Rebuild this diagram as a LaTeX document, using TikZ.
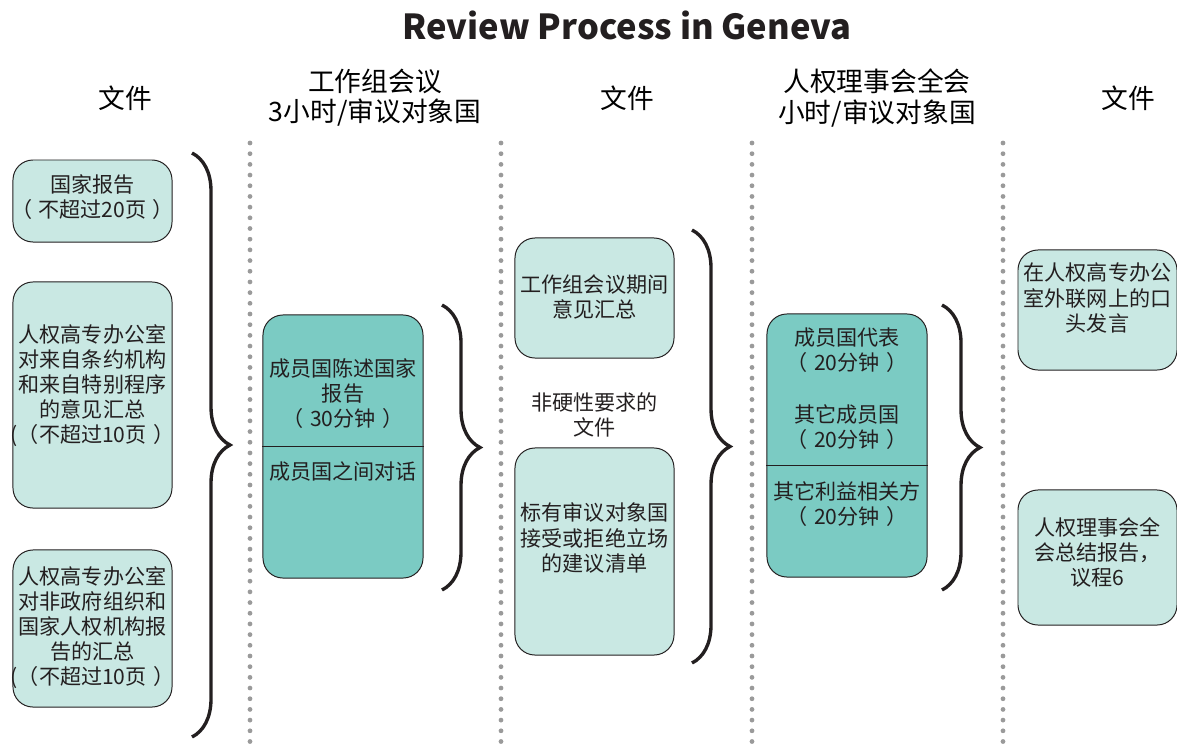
\documentclass[tikz,border=0pt]{standalone}
\usepackage{fontspec}
\setmainfont{Noto Sans CJK SC}
\usetikzlibrary{decorations.pathreplacing}
\definecolor{paleteal}{HTML}{C9E8E3}
\definecolor{deepteal}{HTML}{7BCBC3}
\definecolor{inkgray}{HTML}{231F20}
\definecolor{dotgray}{HTML}{9A9A9A}

\begin{document}
\begin{tikzpicture}[x=0.025cm, y=-0.025cm,
  doc/.style={draw=inkgray, line width=0.7pt, rounded corners=0.5cm,
              fill=paleteal, minimum width=3.975cm},
  talk/.style={doc, fill=deepteal, minimum width=4cm},
  txt/.style={font=\fontsize{15}{17.8}\selectfont, text=inkgray,
              align=center, inner sep=0pt},
  head/.style={font=\fontsize{19}{21.5}\selectfont, text=black, align=center},
  sep/.style={dotgray, line width=3.4pt, line cap=round,
              dash pattern=on 0pt off 7.6pt},
  curly/.style={decorate, decoration={brace, amplitude=0.95cm},
                line width=2.4pt, inkgray},
  ]
  \useasboundingbox (0,0) rectangle (1177,751);

  % title and column heads
  \node[font=\fontsize{24.5}{28}\selectfont\bfseries, text=inkgray] (title) at (627,25) {Review Process in Geneva};
  \node[head] (head1) at (125,98) {文件};
  \node[head] (head2) at (375,98) {工作组会议\\3小时/审议对象国};
  \node[head] (head3) at (627,98) {文件};
  \node[head] (head4) at (877,98) {人权理事会全会\\小时/审议对象国};
  \node[head] (head5) at (1128,98) {文件};

  % column separators
  \foreach \x in {250,501,752,1003}
    \draw[sep] (\x,143) -- (\x,751);

  % documents before the working group
  \node[doc, minimum height=2.05cm] (report) at (92.5,201) {};
  \node[txt] (report-txt) at (92.5,197) {国家报告\\（\hspace{0.3em}不超过20页\hspace{0.3em}）};
  \node[doc, minimum height=5.65cm] (un-info) at (92.5,395) {};
  \node[txt] (un-info-txt) at (92.5,386) {人权高专办公室\\对来自条约机构\\和来自特别程序\\的意见汇总\\(（不超过10页\hspace{0.3em}）};
  \node[doc, minimum height=3.925cm] (stake) at (92.5,628.5) {};
  \node[txt] (stake-txt) at (92.5,627.5) {人权高专办公室\\对非政府组织和\\国家人权机构报\\告的汇总\\(（不超过10页\hspace{0.3em}）};

  % working group session
  \node[talk, minimum height=6.575cm] (dialogue) at (343,446.5) {};
  \coordinate (split2) at (0,446);
  \draw[inkgray, line width=0.7pt] (dialogue.west |- split2) -- (dialogue.east |- split2);
  \node[txt] (present-txt) at (343,394) {成员国陈述国家\\报告\\（\hspace{0.3em}30分钟\hspace{0.3em}）};
  \node[txt] (dialogue-txt) at (343,471) {成员国之间对话};

  % documents after the working group
  \node[doc, minimum height=3cm] (summary) at (594.5,298) {};
  \node[txt] (summary-txt) at (594.5,296.5) {工作组会议期间\\意见汇总};
  \node[txt] (optional-txt) at (594.5,415) {非硬性要求的\\文件};
  \node[doc, minimum height=5.175cm] (recs) at (594.5,551.5) {};
  \node[txt] (recs-txt) at (594.5,538) {标有审议对象国\\接受或拒绝立场\\的建议清单};

  % council plenary
  \node[talk, minimum height=6.575cm] (plenary) at (847,445.5) {};
  \coordinate (split4) at (0,465);
  \draw[inkgray, line width=0.7pt] (plenary.west |- split4) -- (plenary.east |- split4);
  \node[txt] (state-txt) at (847,350.5) {成员国代表\\（\hspace{0.3em}20分钟\hspace{0.3em}）};
  \node[txt] (others-txt) at (847,427.5) {其它成员国\\（\hspace{0.3em}20分钟\hspace{0.3em}）};
  \node[txt] (ngo-txt) at (847,504) {其它利益相关方\\（\hspace{0.3em}20分钟\hspace{0.3em}）};

  % final documents
  \node[doc, minimum height=3cm] (extranet) at (1097.5,310) {};
  \node[txt] (extranet-txt) at (1097.5,298) {在人权高专办公\\室外联网上的口\\头发言};
  \node[doc, minimum height=3.375cm] (final) at (1097.5,557.5) {};
  \node[txt] (final-txt) at (1097.5,552) {人权理事会全\\会总结报告，\\议程6};

  % braces
  \coordinate (b1-top) at (192,153);
  \coordinate (b1-bot) at (192,737);
  \coordinate (b2-top) at (442,305);
  \coordinate (b2-bot) at (442,590);
  \coordinate (b3-top) at (692,230);
  \coordinate (b3-bot) at (692,663);
  \coordinate (b4-top) at (942,305);
  \coordinate (b4-bot) at (942,590);
  \draw[curly] (b1-top) -- (b1-bot);
  \draw[curly] (b2-top) -- (b2-bot);
  \draw[curly] (b3-top) -- (b3-bot);
  \draw[curly] (b4-top) -- (b4-bot);
\end{tikzpicture}
\end{document}
